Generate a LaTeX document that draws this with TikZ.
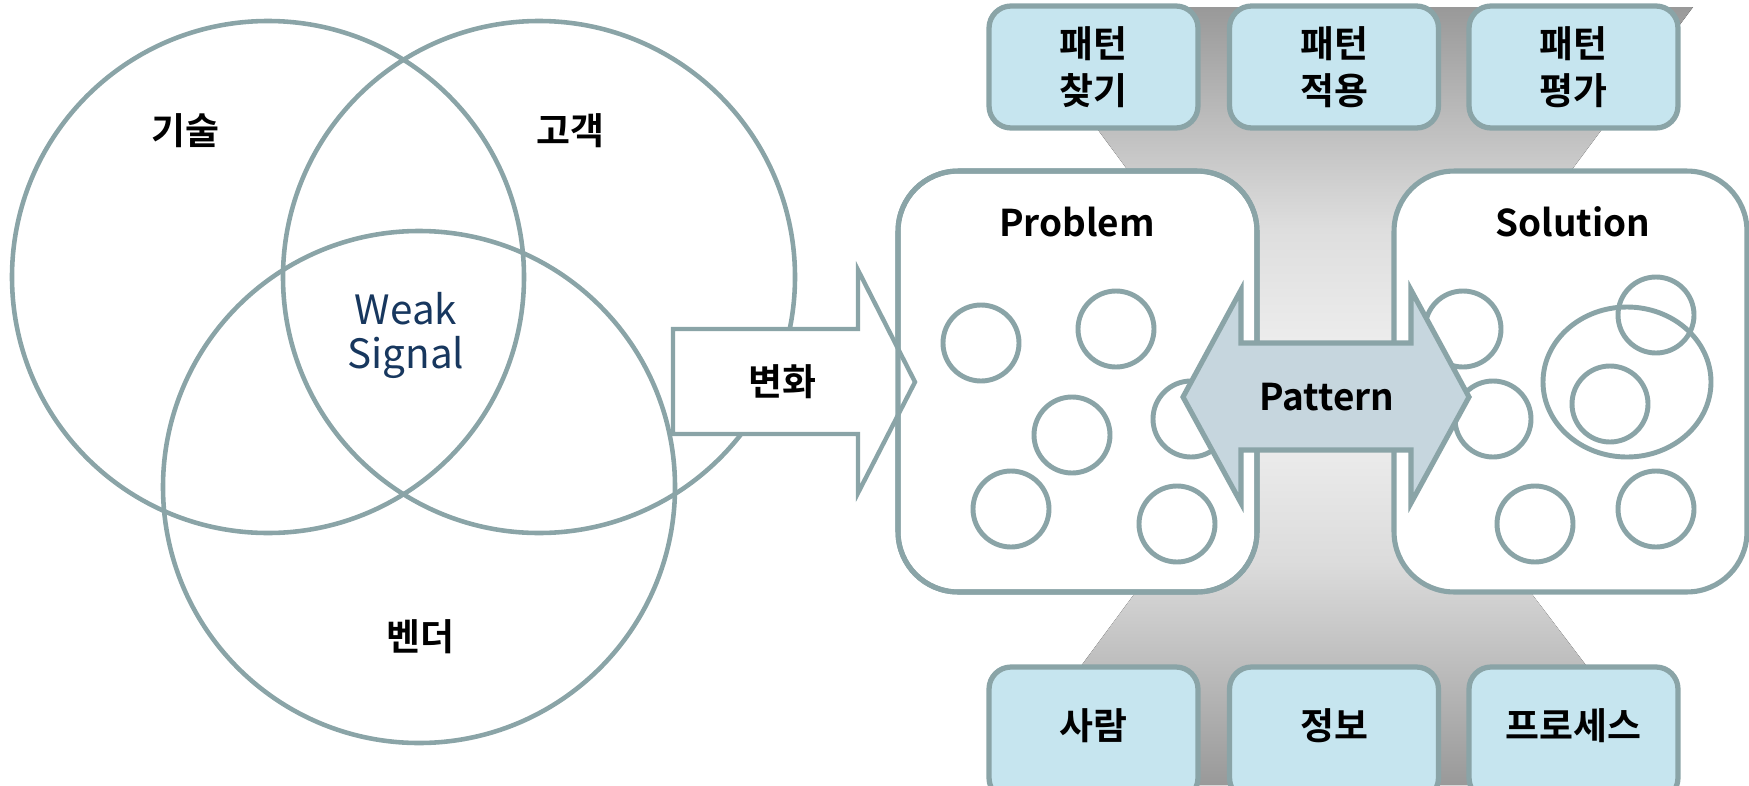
\documentclass[tikz,border=0pt]{standalone}
\usepackage{fontspec}
\usepackage{xcolor}
\usepackage{tikz}

\newfontfamily\kobf{Noto Sans CJK KR Bold}
\newfontfamily\koreg{Noto Sans CJK KR}

\definecolor{edgegray}{RGB}{138,164,167}
\definecolor{boxblue}{RGB}{198,229,239}
\definecolor{arrowblue}{RGB}{198,214,222}
\definecolor{signalblue}{RGB}{23,55,94}

\begin{document}
\begin{tikzpicture}[x=0.02cm, y=-0.02cm,
    every node/.style={font=\kobf\fontsize{21}{26.6}\selectfont},
    venn/.style={draw=edgegray, line width=2.6pt},
    blob/.style={draw=edgegray, line width=2.8pt},
    tagbox/.style={draw=edgegray, line width=3pt, fill=boxblue, rounded corners=0.44cm,
                   minimum width=4.18cm, align=center, inner sep=0pt},
    panel/.style={draw=edgegray, line width=2.9pt, fill=white, rounded corners=1.2cm,
                  minimum height=8.42cm, inner sep=0pt, outer sep=0pt}]
        \useasboundingbox (0,0) rectangle (1749,785);

        % Grey funnel behind the pattern boxes
        \fill[top color=black!40, bottom color=black!2, middle color=black!13]
            (1007,7) -- (1693,7) -- (1363,450) -- (1335,450) -- cycle;
        \fill[top color=black!2, bottom color=black!40, middle color=black!14]
            (1320,343) -- (1341,343) -- (1677,785) -- (993,785) -- cycle;

        % Pattern steps (top) and resources (bottom)
        \foreach \n/\x/\t in {find/1093.5/{패턴\\찾기}, apply/1334/{패턴\\적용}, rate/1573.5/{패턴\\평가}} {
            \node[tagbox, minimum height=2.44cm] (\n) at (\x,67) {\t};
        }
        \foreach \n/\x/\t in {people/1093.5/사람, info/1334/정보, process/1573.5/프로세스} {
            \node[tagbox, minimum height=2.66cm, text height=0.65cm, text depth=0.4cm] (\n) at (\x,733.5) {\t};
        }

        % Problem / Solution panels
        \node[panel, minimum width=7.18cm] (prob) at (1077.5,381.5) {};
        \node[panel, minimum width=7.06cm] (sol) at (1570.5,381.5) {};
        \node (problbl) at (1077,222) {Problem};
        \node (sollbl) at (1573,222) {Solution};

        % Venn diagram
        \draw[venn] (268,277) circle[radius=256];
        \draw[venn] (539,277) circle[radius=256];
        \draw[venn] (419,487) circle[radius=256];
        \node (tech) at (185,131) {기술};
        \node (cust) at (570,131) {고객};
        \node (vend) at (420,637) {벤더};
        \node[font=\koreg\fontsize{23}{25}\selectfont, text=signalblue, align=center] (weak) at (406,335) {Weak\\Signal};

        % Change arrow
        \draw[draw=edgegray, line width=2.5pt, fill=white]
            (673,329) -- (858,329) -- (858,270) -- (915,382) -- (858,493) -- (858,434) -- (673,434) -- cycle;
        \node (chg) at (782,382) {변화};
        \draw[draw=edgegray, line width=2.9pt, rounded corners=1.2cm] (prob.south west) rectangle (prob.north east);

        % Elements inside the panels
        \foreach \x/\y in {981/343, 1116/329, 1072/435, 1011/509, 1177/524, 1191/419} {
            \draw[blob] (\x,\y) circle[radius=38];
        }
        \foreach \x/\y in {1463/329, 1493/419, 1656/315, 1610/404, 1535/524, 1656/509} {
            \draw[blob] (\x,\y) circle[radius=38];
        }
        \draw[blob] (1627,382) ellipse[x radius=84, y radius=75];

        % Pattern arrow
        \draw[draw=edgegray, line width=2.9pt, fill=arrowblue]
            (1183,397) -- (1241,290) -- (1241,343) -- (1411,343) -- (1411,290) -- (1469,397)
            -- (1411,503) -- (1411,450) -- (1241,450) -- (1241,503) -- cycle;
        \node (pat) at (1327,397) {Pattern};
    \end{tikzpicture}
\end{document}
